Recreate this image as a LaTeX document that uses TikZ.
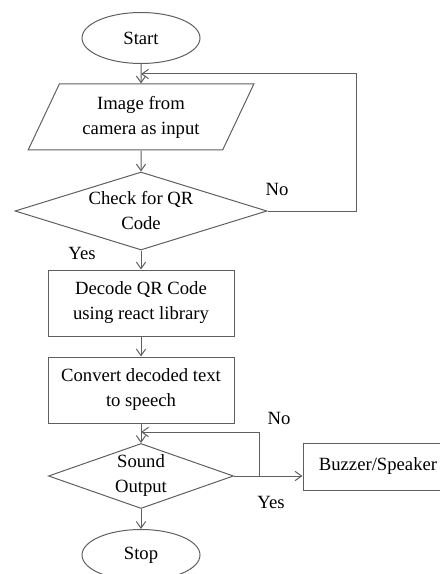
\documentclass[tikz,border=0pt]{standalone}
\usepackage{fontspec}
\setmainfont{Liberation Serif}
\usetikzlibrary{shapes.geometric,arrows.meta}

\tikzset{every picture/.style={line width=0.75pt}}
\tikzset{
  flowline/.style={draw={rgb, 255:red, 95; green, 95; blue, 95 }},
  flowarrow/.style={flowline,-{Straight Barb[length=5pt,width=7pt]}},
  terminal/.style={ellipse,flowline,minimum width=88.5pt,minimum height=38.25pt,inner sep=0pt,align=center},
  iobox/.style={trapezium,trapezium left angle=62,trapezium right angle=118,trapezium stretches=true,flowline,minimum width=169.5pt,minimum height=49.5pt,inner sep=0pt,align=center},
  decision/.style={diamond,flowline,inner sep=0pt,align=center},
  process/.style={rectangle,flowline,minimum width=139.5pt,minimum height=49.5pt,inner sep=0pt,align=center},
}

\begin{document}
\begin{tikzpicture}[x=0.75pt,y=0.75pt,yscale=-1,xscale=1,font=\fontsize{14}{18.75}\selectfont]
\useasboundingbox (0,0) rectangle (439,574);

% Flow nodes
\node [terminal] (start) at (141,38) {Start};
\node [iobox] (input) at (141,117) {Image from\\camera as input};
\node [decision,minimum width=189pt,minimum height=58.5pt,aspect=3.2] (check) at (141,211) {Check for QR\\Code};
\node [process] (decode) at (141,303) {Decode QR Code\\using react library};
\node [process] (convert) at (141,390) {Convert decoded text\\to speech};
\node [decision,minimum width=138.75pt,minimum height=48.75pt,aspect=2.85] (sound) at (141,476) {Sound\\Output};
\node [process,minimum width=112.5pt,minimum height=35.25pt] (buzzer) at (378,466.5) {Buzzer/Speaker};
\node [terminal] (stop) at (141,555) {Stop};

% Loop corners
\coordinate (loopA) at (356,74);
\coordinate (loopB) at (259,432);

% Connectors
\draw [flowarrow] (start) -- (input);
\draw [flowarrow] (input) -- (check);
\draw [flowarrow] (check.east) -| (loopA) -- (loopA -| start);
\draw [flowarrow] (check) -- (decode);
\draw [flowarrow] (decode) -- (convert);
\draw [flowarrow] (convert) -- (sound);
\draw [flowarrow] (sound.east) -- (buzzer.west |- sound.east);
\draw [flowarrow] (loopB |- sound.east) -- (loopB) -- (loopB -| sound);
\draw [flowarrow] (sound) -- (stop);

% Text Node
\node (no1) at (277,189) {No};
% Text Node
\node (yes1) at (82,253) {Yes};
% Text Node
\node (no2) at (279,418) {No};
% Text Node
\node (yes2) at (271,502) {Yes};

\end{tikzpicture}
\end{document}
